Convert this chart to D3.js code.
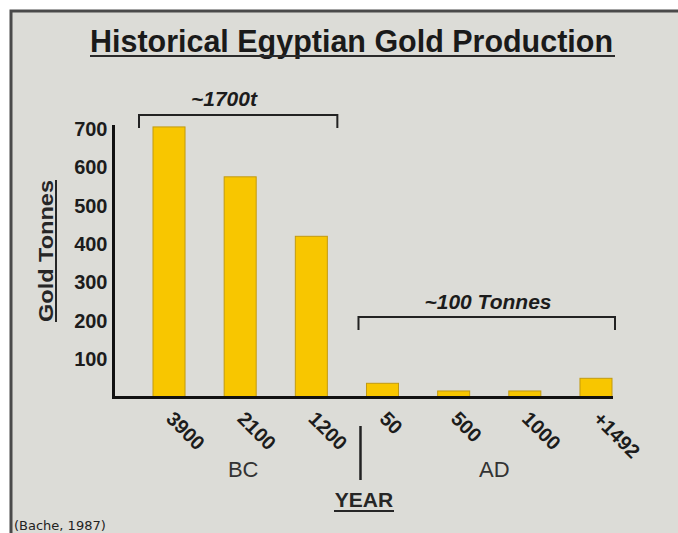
<!DOCTYPE html>
<html>
<head>
<meta charset="utf-8">
<script src="https://cdn.jsdelivr.net/npm/d3@7"></script>
<style>
body{margin:0;background:#fff}
svg{display:block;font-family:"Liberation Sans",Arial,sans-serif}
</style>
</head>
<body>
<svg id="graph1"></svg>
<script>
// values
var years=["3900","2100","1200","50","500","1000","+1492"]
var tonnes=[705,575,420,37,17,17,50]
var yTicks=[100,200,300,400,500,600,700]
var eras=["BC","AD"]
var groupLabels=["~1700t","~100 Tonnes"]

var initGraph=function()
    {
        var screen={width:678,height:533}
        var svg=d3.select("#graph1")
            .attr("width",screen.width)
            .attr("height",screen.height)

        // grey panel with dark frame on top and left
        svg.append("rect")
            .attr("x",11).attr("y",11)
            .attr("width",screen.width).attr("height",screen.height)
            .attr("fill","#dcdcd7")
        svg.append("path")
            .attr("d","M11,"+screen.height+"V11H"+screen.width)
            .attr("fill","none")
            .attr("stroke","#4a4a4a")
            .attr("stroke-width",3)

        var xScale=d3.scaleBand()
            .domain(years)
            .range([153,612])
            .paddingInner(0.55)
            .paddingOuter(0)

        var yScale=d3.scaleLinear()
            .domain([0,710])
            .range([397.5,125])

        drawBars(svg,xScale,yScale)
        drawAxes(svg,xScale,yScale)
        drawLabels(svg,xScale,yScale)
    }

var drawBars=function(svg,xScale,yScale)
    {
        svg.append("g")
            .selectAll("rect")
            .data(tonnes)
            .enter()
            .append("rect")
            .attr("x",function(d,i){return xScale(years[i])})
            .attr("y",function(d){return yScale(d)})
            .attr("width",xScale.bandwidth())
            .attr("height",function(d){return yScale(0)-yScale(d)})
            .attr("fill","#f8c600")
            .attr("stroke","#c29a10")
            .attr("stroke-width",1)
    }

var drawAxes=function(svg,xScale,yScale)
    {
        var x0=113.5
        var x1=613
        svg.append("path")
            .attr("d","M"+x0+","+yScale(710)+"V"+yScale(0)+"H"+x1)
            .attr("fill","none")
            .attr("stroke","#111")
            .attr("stroke-width",3)

        var yAxis=d3.axisLeft(yScale)
            .tickValues(yTicks)
            .tickSize(0)
            .tickPadding(6)
        var ga=svg.append("g")
            .attr("transform","translate("+x0+",0)")
            .call(yAxis)
        ga.select(".domain").remove()
        ga.selectAll("text")
            .attr("font-family","Liberation Sans")
            .attr("font-size",20)
            .attr("font-weight","bold")
            .attr("fill","#1c1c1c")

        // rotated year labels
        svg.append("g")
            .selectAll("text")
            .data(years)
            .enter()
            .append("text")
            .text(function(d){return d})
            .attr("transform",function(d)
                {
                    return "translate("+(xScale(d)+xScale.bandwidth()/2-4)+",420) rotate(45)"
                })
            .attr("font-size",20)
            .attr("font-weight","bold")
            .attr("fill","#1c1c1c")
    }

var drawLabels=function(svg,xScale,yScale)
    {
        var bw=xScale.bandwidth()

        svg.append("text")
            .text("Historical Egyptian Gold Production")
            .attr("x",90)
            .attr("y",52)
            .attr("textLength",523)
            .attr("lengthAdjust","spacingAndGlyphs")
            .attr("font-size",32)
            .attr("font-weight","bold")
            .attr("fill","#1a1a1a")
        svg.append("line")
            .attr("x1",90).attr("x2",615)
            .attr("y1",56).attr("y2",56)
            .attr("stroke","#2a2a2a")
            .attr("stroke-width",2)

        // y label
        var yl=svg.append("g")
            .attr("transform","translate(53,251) rotate(-90)")
        yl.append("text")
            .text("Gold Tonnes")
            .attr("text-anchor","middle")
            .attr("textLength",142)
            .attr("lengthAdjust","spacingAndGlyphs")
            .attr("font-size",21)
            .attr("font-weight","bold")
            .attr("fill","#262626")
        yl.append("line")
            .attr("x1",-71).attr("x2",71)
            .attr("y1",3).attr("y2",3)
            .attr("stroke","#262626")
            .attr("stroke-width",2)

        // group brackets
        var brackets=[
            {x1:xScale(years[0])-14,x2:xScale(years[2])+bw+10,y:115,ty:106},
            {x1:xScale(years[3])-8,x2:xScale(years[6])+bw+3,y:317,ty:309}
        ]
        brackets.forEach(function(b,i)
            {
                svg.append("path")
                    .attr("d","M"+b.x1+","+(b.y+13)+"V"+b.y+"H"+b.x2+"V"+(b.y+13))
                    .attr("fill","none")
                    .attr("stroke","#222")
                    .attr("stroke-width",2)
                svg.append("text")
                    .text(groupLabels[i])
                    .attr("x",i==0?224:488)
                    .attr("y",b.ty)
                    .attr("text-anchor","middle")
                    .attr("font-size",21)
                    .attr("font-weight","bold")
                    .attr("font-style","italic")
                    .attr("fill","#1c1c1c")
            })

        // era labels and divider
        var eraX=[xScale(years[1])+bw/2+3,(xScale(years[4])+xScale(years[5])+bw)/2+5]
        svg.append("g")
            .selectAll("text")
            .data(eras)
            .enter()
            .append("text")
            .text(function(d){return d})
            .attr("x",function(d,i){return eraX[i]})
            .attr("y",477)
            .attr("text-anchor","middle")
            .attr("font-size",22)
            .attr("fill","#333")
        var divX=xScale(years[3])-6
        svg.append("line")
            .attr("x1",divX).attr("x2",divX)
            .attr("y1",426).attr("y2",480)
            .attr("stroke","#222")
            .attr("stroke-width",2.5)

        svg.append("text")
            .text("YEAR")
            .attr("x",364)
            .attr("y",507)
            .attr("text-anchor","middle")
            .attr("font-size",21)
            .attr("font-weight","bold")
            .attr("fill","#262626")
        svg.append("line")
            .attr("x1",334).attr("x2",394)
            .attr("y1",511).attr("y2",511)
            .attr("stroke","#262626")
            .attr("stroke-width",2)

        svg.append("text")
            .text("(Bache, 1987)")
            .attr("x",14)
            .attr("y",530)
            .attr("font-family","DejaVu Sans")
            .attr("font-size",13)
            .attr("fill","#222")
    }

initGraph()
</script>
</body>
</html>
